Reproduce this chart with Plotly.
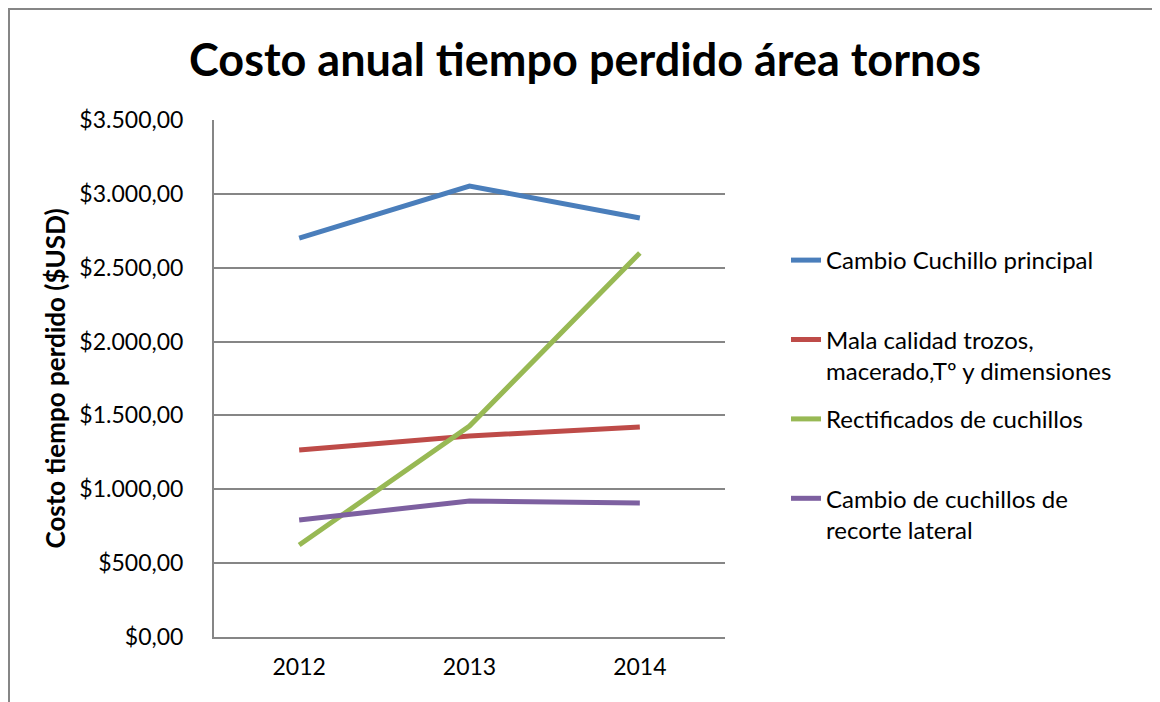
import plotly.graph_objects as go

years = ["2012", "2013", "2014"]
series_names = [
    "Cambio Cuchillo principal",
    "Mala calidad trozos,<br>macerado,Tº y dimensiones",
    "Rectificados de cuchillos",
    "Cambio de cuchillos de<br>recorte lateral",
]
cambio_principal = [2700, 3053, 2836]
mala_calidad = [1266, 1361, 1422]
rectificados = [623, 1428, 2600]
recorte_lateral = [792, 921, 907]
colors = ["#4A7EBB", "#BE4B48", "#98B954", "#7D60A0"]

FONT = "Lato"
O = 8  # page body margin in the browser
W, H = 1160 - O, 702 - O
L, R, T, B = 214 - O, 1160 - 725, 120 - O, 702 - 637

fig = go.Figure()
for name, vals, col in zip(series_names,
                           [cambio_principal, mala_calidad, rectificados, recorte_lateral],
                           colors):
    # pad single-line labels to two lines so legend spacing is even
    label = name if "<br>" in name else name + "<br>&nbsp;"
    fig.add_trace(go.Scatter(x=years, y=vals, mode="lines", name=label,
                             legendgroup=name,
                             line=dict(color=col, width=5)))

pw, ph = W - L - R, H - T - B


def px(x):
    return (x - O - L) / pw


def py(y):
    return (H - (y - O) - B) / ph


# outer chart frame (can't go past the page margin, so start at the edge)
fig.add_shape(type="rect", xref="paper", yref="paper",
              x0=px(O + 1), x1=px(1158), y0=py(720), y1=py(O + 1),
              line=dict(color="#868686", width=2), layer="below")

fig.update_layout(
    width=W, height=H,
    margin=dict(l=L, r=R, t=T, b=B),
    paper_bgcolor="white", plot_bgcolor="white",
    font=dict(family=FONT, size=23, color="black"),
    separators=",.",
    title=dict(text="<b>Costo anual tiempo perdido área tornos</b>",
               x=(585 - O) / W, xanchor="center", y=1 - (60 - O) / H, yanchor="middle",
               font=dict(size=45, family=FONT)),
    showlegend=True,
    legend=dict(x=px(786), xanchor="left", y=py(238), yanchor="top",
                valign="top", tracegroupgap=14, bgcolor="rgba(0,0,0,0)",
                font=dict(size=24, family=FONT)),
)
fig.update_xaxes(type="category", range=[-0.5, 2.5], showgrid=False,
                 showline=True, linecolor="#868686", linewidth=2,
                 ticks="", ticklabelstandoff=8)
fig.update_yaxes(range=[0, 3500], dtick=500, tickprefix="$", tickformat=",.2f",
                 showgrid=True, gridcolor="#868686", gridwidth=1.5,
                 showline=True, linecolor="#868686", linewidth=2,
                 zeroline=False, ticks="", ticklabelstandoff=24,
                 title=dict(text="<b>Costo tiempo perdido ($USD)</b>",
                            font=dict(size=26, family=FONT), standoff=6))

fig.write_html("out.html")
